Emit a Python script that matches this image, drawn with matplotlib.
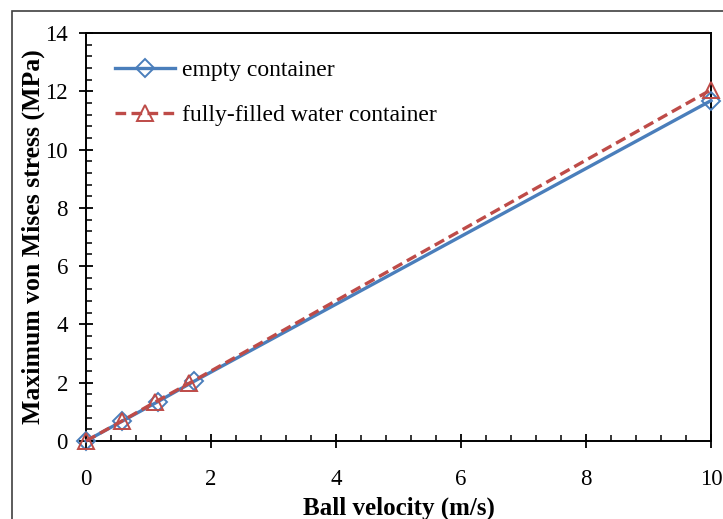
import matplotlib
matplotlib.use("Agg")
import matplotlib.pyplot as plt
from matplotlib.patches import Rectangle
from matplotlib.ticker import MultipleLocator

# Ball velocity (m/s) and peak von Mises stress (MPa)
v_empty = [0.0, 0.57, 1.15, 1.73, 10.0]
s_empty = [0.0, 0.67, 1.35, 2.05, 11.68]
v_water = [0.0, 0.57, 1.10, 1.65, 10.0]
s_water = [0.0, 0.68, 1.33, 1.98, 12.05]

label_empty = "empty container"
label_water = "fully-filled water container"
xlabel = "Ball velocity (m/s)"
ylabel = "Maximum von Mises stress (MPa)"

plt.rcParams["font.family"] = ["Liberation Serif", "DejaVu Serif"]

fig = plt.figure(figsize=(7.23, 5.19), dpi=100)
ax = fig.add_axes([86 / 723, 1 - 441 / 519, 625 / 723, 408 / 519])

# outer chart-area border
fig.patches.append(Rectangle((12 / 723, -0.1), 1.0, 1 - 11 / 519 + 0.1,
                             transform=fig.transFigure, fill=False,
                             edgecolor="#404040", lw=1.2, zorder=0))

blue = "#4A7EBB"
red = "#BE4B48"

ax.plot(v_empty, s_empty, color=blue, lw=2.4, marker="D", ms=9.3,
        mfc="none", mec=blue, mew=1.4, label=label_empty, zorder=3,
        clip_on=False)
ax.plot(v_water, s_water, color=red, lw=2.4, ls=(0, (3.2, 1.6)), marker="^",
        ms=12, mfc="none", mec=red, mew=1.4, label=label_water, zorder=4,
        clip_on=False)

ax.set_xlim(0, 10)
ax.set_ylim(0, 14)
ax.xaxis.set_major_locator(MultipleLocator(2))
ax.xaxis.set_minor_locator(MultipleLocator(0.4))
ax.yaxis.set_major_locator(MultipleLocator(2))
ax.yaxis.set_minor_locator(MultipleLocator(0.4))

for s in ax.spines.values():
    s.set_linewidth(1.4)
    s.set_color("black")

ax.tick_params(axis="both", which="major", direction="inout", length=10,
               width=1.3, labelsize=16.5)
ax.tick_params(axis="both", which="minor", direction="in", length=4.5,
               width=1.1)
ax.tick_params(axis="x", which="major", pad=15)
ax.tick_params(axis="y", which="major", pad=8)

ax.set_xlabel(xlabel, fontsize=18, fontweight="bold", labelpad=5)
ax.set_ylabel(ylabel, fontsize=18.5, fontweight="bold", labelpad=0)

ax.legend(loc="upper left", frameon=False, fontsize=17, handlelength=2.55,
          handletextpad=0.3, labelspacing=1.0,
          bbox_to_anchor=(0.024, 0.970), borderaxespad=0.2)

fig.savefig("out.png", dpi=100)
